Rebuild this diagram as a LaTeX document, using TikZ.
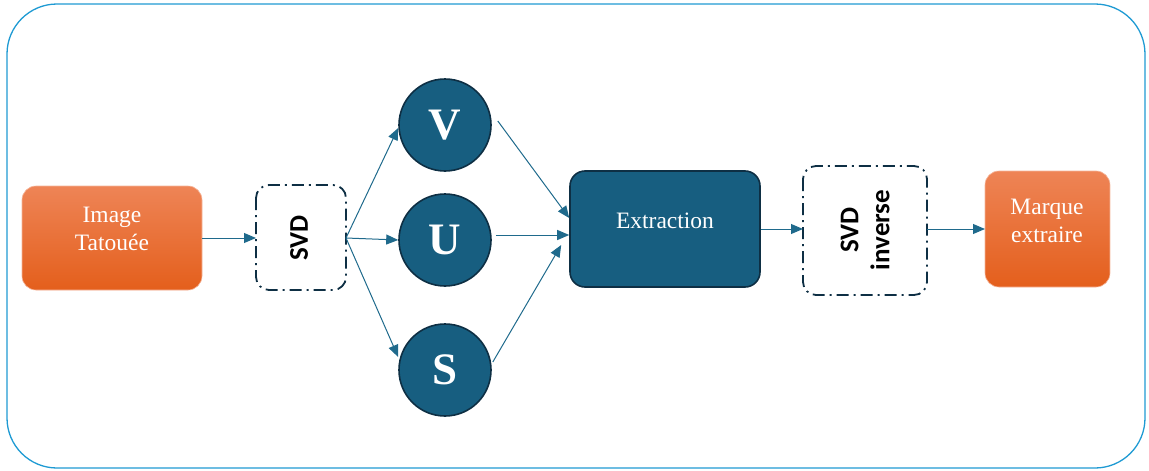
\documentclass[tikz,border=0pt]{standalone}
\usepackage{fontspec}
\setmainfont{Liberation Serif}
\newfontfamily\calibri{Carlito}
\usetikzlibrary{arrows.meta,positioning}
\definecolor{frameblue}{HTML}{1E9AD3}
\definecolor{teal}{HTML}{175E80}
\definecolor{navy}{HTML}{0E2F44}
\definecolor{arrowc}{HTML}{1F6A8C}
\definecolor{orangetop}{HTML}{EE8456}
\definecolor{orangebot}{HTML}{E45F1C}
\tikzset{
  x=1pt, y=-1pt,
  orangebox/.style={rounded corners=14pt, top color=orangetop, bottom color=orangebot,
    draw=orangetop!60!white, line width=0.6pt},
  boxtext/.style={text=white, align=center, font=\fontsize{23.5}{28}\selectfont},
  chainbox/.style={rounded corners=13pt, draw=navy, line width=1.8pt,
    dash pattern=on 12pt off 5pt on 2pt off 5pt, fill=white},
  disc/.style={circle, fill=teal, draw=navy, line width=1.6pt, text=white,
    minimum size=92pt, inner sep=0pt, font=\fontsize{45}{46}\selectfont\bfseries},
  darkbox/.style={rounded corners=15pt, fill=teal, draw=navy, line width=1.6pt},
  flow/.style={draw=arrowc, line width=1pt, -{Triangle[length=12pt,width=10pt]}},
  rotlabel/.style={rotate=90, font=\calibri\bfseries\fontsize{27}{31}\selectfont, align=center}
}
\begin{document}
\begin{tikzpicture}
\useasboundingbox (0,0) rectangle (1149,471);
% outer frame
\draw[frameblue, line width=1.3pt, rounded corners=50pt] (7,4) rectangle (1145,468);

% input image
\path[orangebox] (22,186) rectangle (202,290);
\node[boxtext] (img) at (112,229) {Image\\Tatouée};
\coordinate (imgE) at (202,238);

% decomposition
\path[chainbox] (256,185) rectangle (346,290);
\node[rotlabel] (svd) at (299,238) {SVD};
\coordinate (svdW) at (256,238);
\coordinate (svdE) at (346,238);

% factor matrices
\node[disc] (V) at (445,125) {V};
\node[disc] (U) at (445,240) {U};
\node[disc] (S) at (445,370) {S};

% extraction block
\node[darkbox, minimum width=190pt, minimum height=116pt] (ext) at (665,229) {};
\node[boxtext] (extlab) at (665,221) {Extraction};

% inverse decomposition
\path[chainbox] (803,166) rectangle (927,295);
\node[rotlabel] (isvd) at (865,230) {SVD\\inverse};
\coordinate (isvdW) at (803,229);
\coordinate (isvdE) at (927,229);

% output mark
\path[orangebox] (985,171) rectangle (1110,287);
\node[boxtext] (mark) at (1047,221) {Marque\\extraire};
\coordinate (markW) at (985,229);

% connectors
\draw[flow] (imgE) -- (svdW);
\draw[flow] (svdE) -- (V.west |- 0,128) ;
\draw[flow] (svdE) -- (U.west);
\draw[flow] (svdE) -- (S.west |- 0,357);
\draw[flow] ([shift={(6,-4)}]V.east) -- (ext.west |- 0,218);
\draw[flow] ([shift={(4,-5)}]U.east) -- (ext.west |- 0,235);
\draw[flow] ([shift={(1,-8)}]S.east) -- ([xshift=-8pt]ext.west |- 0,245);
\draw[flow] (ext.east |- 0,229) -- (isvdW);
\draw[flow] (isvdE) -- (markW);
\end{tikzpicture}
\end{document}
